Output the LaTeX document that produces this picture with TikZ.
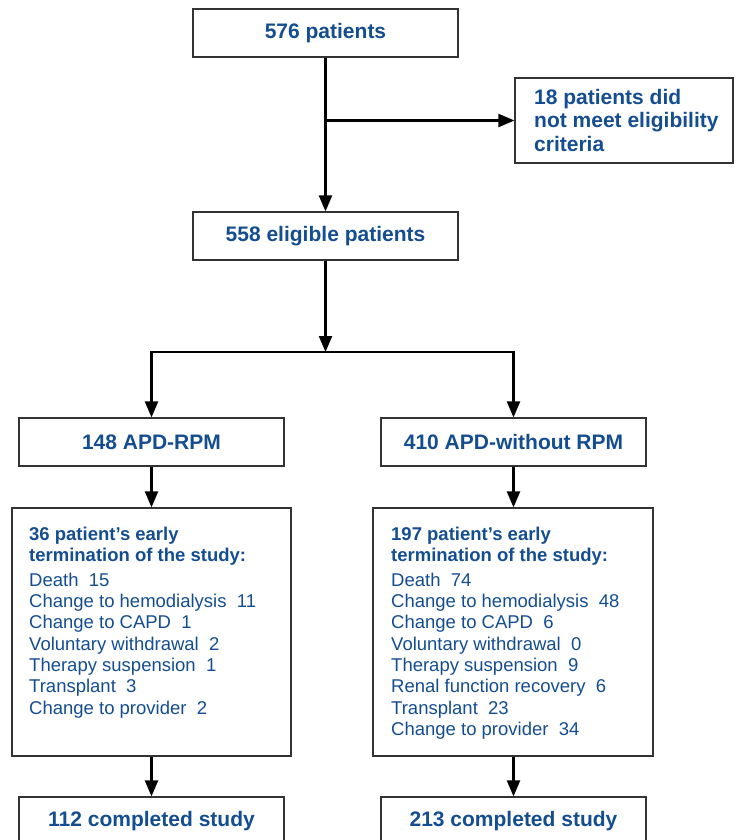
\documentclass[tikz,border=0pt]{standalone}
\usepackage{fontspec}
\setmainfont{Liberation Sans}
\usetikzlibrary{arrows.meta}
\definecolor{tblue}{RGB}{20,78,145}
\begin{document}
\begin{tikzpicture}[x=1pt,y=-1pt,
  box/.style={draw=black!80, line width=1.2pt, fill=white, inner sep=0pt},
  head/.style={text=tblue, font=\fontsize{21}{23.5}\selectfont\bfseries},
  body/.style={text=tblue, font=\fontsize{18.5}{21.3}\selectfont, align=left, anchor=base west, inner sep=0pt},
  arr/.style={line width=2.2pt, line join=miter, -{Triangle[length=16pt,width=13pt]}}]
\useasboundingbox (0,0) rectangle (736,840);
\clip (0,0) rectangle (736,840);
% boxes
\node[box, head, minimum width=265pt, minimum height=48pt] (p576) at (325.5,33) {576 patients};
\node[box, minimum width=218pt, minimum height=85pt] (p18) at (624,120.5) {};
\node[head, align=left, anchor=base west, inner sep=0pt] (t18) at (534,151) {18 patients did\\not meet eligibility\\criteria};
\node[box, head, minimum width=265pt, minimum height=48pt] (p558) at (325.5,236) {558 eligible patients};
\node[box, head, minimum width=265pt, minimum height=48pt] (rpm) at (151.5,442) {148 APD-RPM};
\node[box, head, minimum width=265pt, minimum height=48pt] (norpm) at (513.5,442) {410 APD-without RPM};
\node[box, minimum width=279pt, minimum height=248pt] (e36) at (151.5,632) {};
\node[box, minimum width=280pt, minimum height=248pt] (e197) at (513,632) {};
\node[box, head, minimum width=265pt, minimum height=48pt] (c112) at (151.5,821) {112 completed study};
\node[box, head, minimum width=265pt, minimum height=48pt] (c213) at (513.5,821) {213 completed study};
% list texts (anchor = baseline of last line)
\node[body] (t36) at (29,714.1) {\textbf{36 patient’s early}\\\textbf{termination of the study:}\\[3.7pt]
Death\ \ 15\\Change to hemodialysis\ \ 11\\Change to CAPD\ \ 1\\Voluntary withdrawal\ \ 2\\Therapy suspension\ \ 1\\Transplant\ \ 3\\Change to provider\ \ 2};
\node[body] (t197) at (391,735.4) {\textbf{197 patient’s early}\\\textbf{termination of the study:}\\[3.7pt]
Death\ \ 74\\Change to hemodialysis\ \ 48\\Change to CAPD\ \ 6\\Voluntary withdrawal\ \ 0\\Therapy suspension\ \ 9\\Renal function recovery\ \ 6\\Transplant\ \ 23\\Change to provider\ \ 34};
% connectors
\coordinate (split) at (325.5,352);
\draw[arr] (p576.south) -- (p558.north);
\draw[arr] (p576.south |- p18.west) -- (p18.west);
\draw[arr] (p558.south) -- (split);
\draw[arr] (split) -| (rpm.north);
\draw[arr] (split) -| (norpm.north);
\draw[arr] (rpm.south) -- (e36.north -| rpm.south);
\draw[arr] (norpm.south) -- (e197.north -| norpm.south);
\draw[arr] (e36.south -| c112.north) -- (c112.north);
\draw[arr] (e197.south -| c213.north) -- (c213.north);
\end{tikzpicture}
\end{document}
